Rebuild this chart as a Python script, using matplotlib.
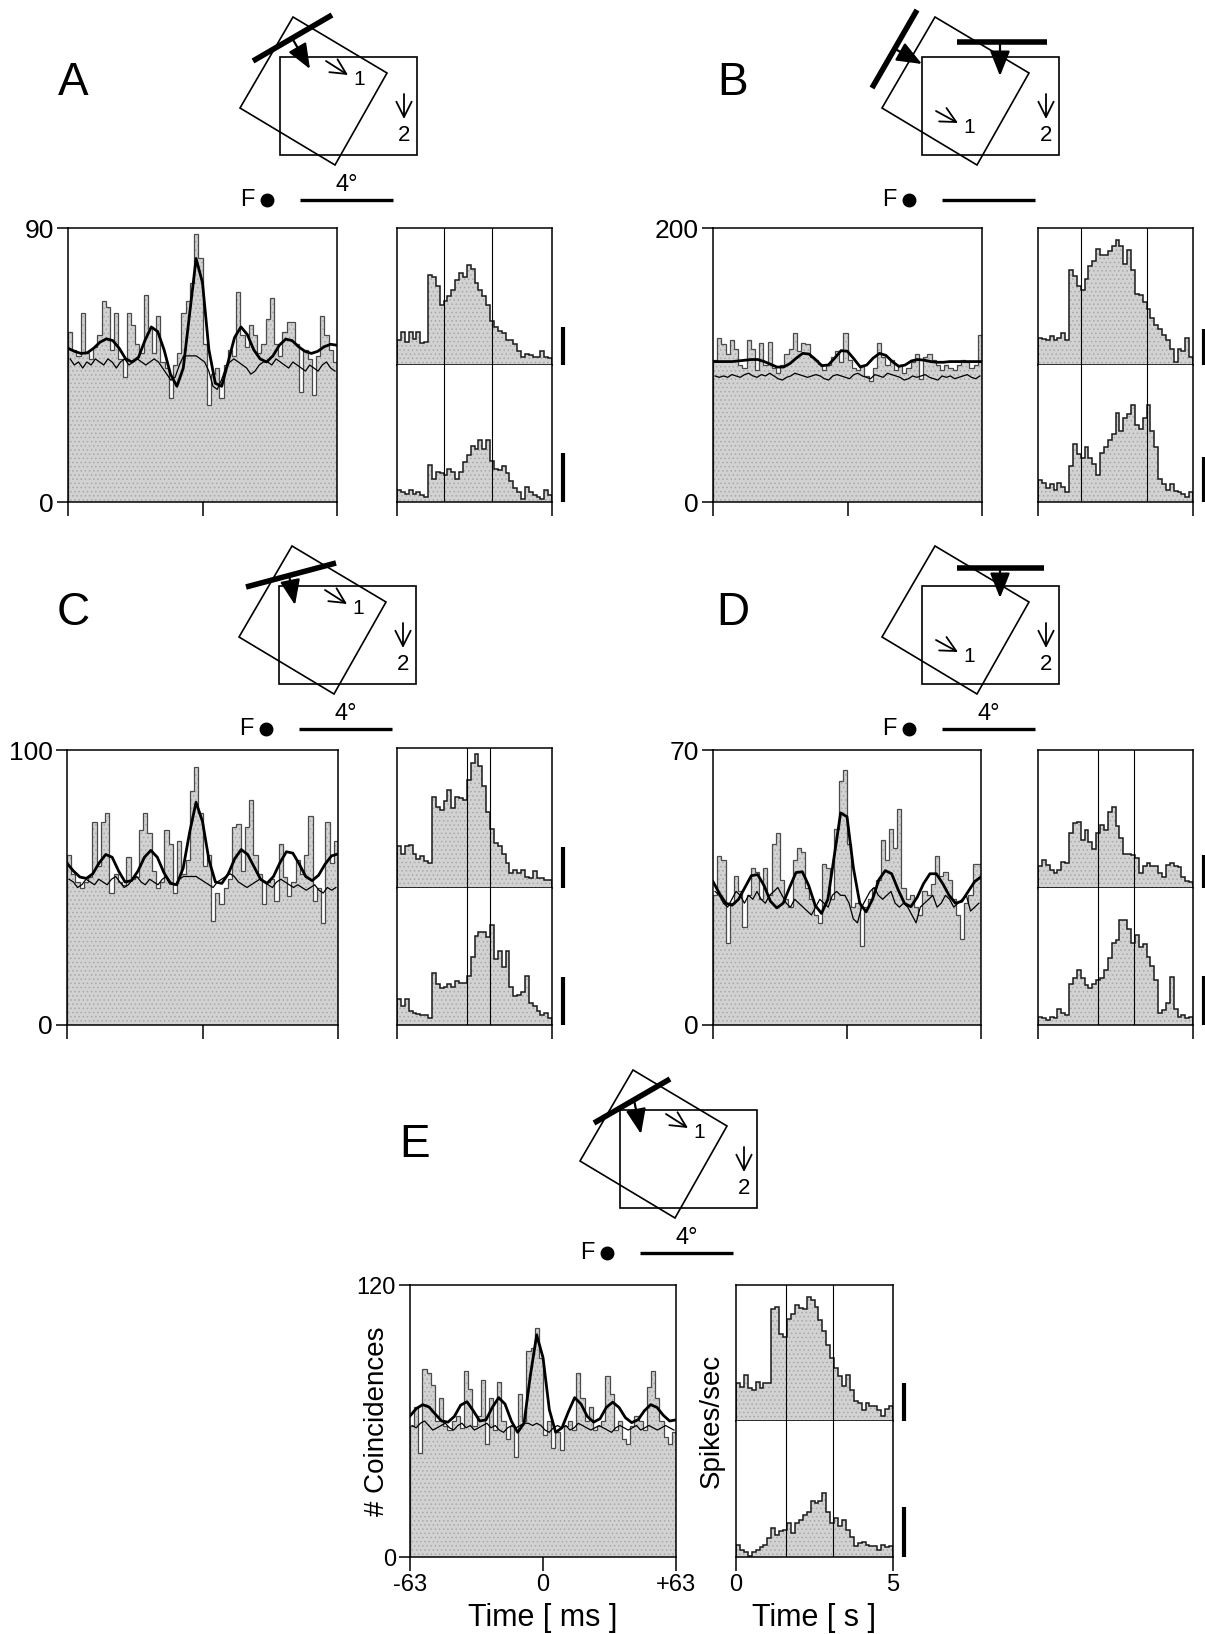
"""Cross-correlograms, PSTHs and receptive-field sketches, panels A-E."""

import matplotlib
import numpy as np

matplotlib.use("Agg")
import matplotlib.pyplot as plt
from matplotlib.patches import Polygon

W, H = 1205, 1634
plt.rcParams["font.family"] = ["Liberation Sans", "DejaVu Sans"]
plt.rcParams["hatch.linewidth"] = 0.6

FILL = "#d2d2d2"
STIPPLE = "#a9a9a9"
OUTLINE = "#4a4a4a"

# ---- cross-correlograms: coincidences per 2 ms bin, -63..+63 ms
ccg_a = [56, 50, 48, 62, 49, 47, 51, 55, 66, 64, 50, 62, 47, 41, 62, 58, 52, 49, 68, 57,
         49, 61, 46, 44, 34, 45, 49, 62, 66, 72, 88, 80, 52, 32, 42, 44, 34, 45, 50, 48,
         69, 55, 51, 58, 55, 49, 52, 60, 67, 52, 48, 56, 59, 59, 52, 36, 50, 47, 35, 48,
         61, 55, 50, 46]
shift_a = [47, 45, 46, 44, 46, 45, 47, 46, 45, 47, 46, 44, 46, 47, 45, 46, 47, 46, 45, 46,
           47, 46, 44, 42, 40, 41, 45, 48, 48, 48, 48, 47, 46, 43, 38, 37, 40, 44, 46, 47,
           46, 45, 44, 42, 43, 45, 46, 46, 45, 47, 46, 45, 44, 46, 45, 44, 43, 45, 44, 43,
           45, 46, 44, 43]
fit_a = [50.5, 49.5, 48.8, 49.0, 50.5, 52.5, 53.6, 53.0, 50.5, 47.0, 46.0, 47.5, 53, 57.5,
         56, 50, 42, 38, 44, 62, 80, 72, 50, 39, 38, 46, 54, 57.5, 55, 50, 47, 46, 48, 51.5,
         53.5, 53, 51, 49.5, 48.8, 49.5, 51, 51.8, 51.5]

ccg_b = [104, 120, 115, 108, 118, 112, 100, 98, 118, 112, 96, 116, 100, 117, 98, 94, 100,
         108, 112, 123, 110, 116, 115, 106, 104, 101, 96, 100, 106, 110, 102, 123, 104, 98,
         96, 100, 92, 88, 98, 116, 106, 100, 104, 96, 100, 94, 98, 102, 108, 90, 106, 108,
         104, 100, 96, 100, 98, 96, 100, 104, 102, 98, 100, 122]
shift_b = [92, 91, 92, 91, 93, 92, 91, 93, 94, 92, 91, 93, 92, 94, 92, 90, 89, 91, 92, 94,
           93, 92, 91, 92, 93, 92, 90, 89, 92, 93, 92, 91, 90, 93, 94, 92, 91, 90, 93, 92,
           91, 94, 93, 92, 91, 89, 90, 92, 91, 92, 93, 91, 90, 89, 92, 91, 92, 90, 91, 92,
           93, 91, 90, 92]
fit_b = [102.5, 102.5, 102.5, 102.5, 103, 103.5, 104, 104, 102.5, 100.5, 98.5, 98.5, 101,
         105, 108.5, 108, 104, 99.5, 100, 105, 110.5, 110, 104.5, 98.5, 100, 105, 108.5,
         107, 102.5, 99, 100, 103, 104, 103.5, 102.5, 102, 102, 102.5, 102.5, 102.5, 102.5,
         102.5, 102.5]

ccg_c = [62, 55, 52, 50, 52, 54, 74, 58, 74, 77, 48, 55, 52, 51, 61, 53, 54, 71, 77, 70,
         56, 50, 52, 71, 66, 48, 67, 55, 60, 85, 94, 77, 58, 62, 38, 48, 44, 50, 53, 72,
         73, 56, 72, 82, 62, 55, 44, 52, 53, 45, 66, 54, 47, 52, 60, 55, 62, 76, 45, 50,
         37, 74, 59, 67]
shift_c = [53, 52, 50, 51, 53, 52, 51, 53, 52, 51, 53, 54, 52, 50, 51, 53, 54, 52, 51, 53,
           52, 51, 53, 54, 52, 51, 53, 54, 54, 54, 54, 53, 52, 51, 50, 52, 53, 54, 55, 54,
           52, 51, 50, 51, 52, 53, 52, 51, 50, 52, 53, 52, 51, 50, 51, 50, 49, 50, 51, 49,
           48, 50, 49, 50]
fit_c = [58.8, 56, 53.8, 53.3, 55, 59, 62, 61, 56, 52, 52.5, 56, 61, 63.5, 61, 55.5, 51.5,
         51, 57, 70, 81, 74, 60, 52, 51.5, 55, 60.5, 63.8, 62, 57.5, 53, 51.5, 54, 59, 63,
         62.5, 58.5, 54, 52.5, 54.5, 58.5, 61.5, 62.2]

ccg_d = [33, 43, 42, 21, 31, 38, 34, 25, 33, 40, 39, 32, 40, 33, 46, 49, 37, 32, 30, 42,
         45, 44, 35, 32, 28, 26, 41, 40, 32, 50, 62, 65, 46, 30, 31, 20, 30, 32, 35, 37,
         47, 42, 50, 45, 55, 35, 32, 33, 30, 28, 34, 33, 36, 43, 38, 39, 37, 32, 28, 22,
         31, 33, 41, 41]
shift_d = [34, 33, 31, 30, 32, 34, 33, 31, 33, 32, 34, 32, 31, 33, 34, 35, 33, 31, 30, 32,
           31, 30, 29, 28, 30, 32, 31, 30, 33, 34, 33, 33, 31, 27, 26, 30, 32, 34, 35, 33,
           32, 33, 34, 31, 30, 31, 30, 28, 26, 30, 31, 32, 33, 30, 31, 33, 32, 30, 31, 32,
           33, 29, 30, 31]
fit_d = [36.5, 33.5, 31, 30.5, 32, 35, 38, 38.3, 35.5, 31.5, 29.8, 31, 35, 38.8, 39, 35.5,
         30.5, 28.4, 32, 43, 54, 53, 40, 31, 28.8, 32, 37, 39.3, 38.5, 34.5, 31, 30.1, 32.5,
         36, 38.5, 38.5, 36, 33, 31, 31.5, 34, 36.5, 37.7]

ccg_e = [58, 66, 46, 83, 81, 76, 60, 70, 58, 56, 60, 62, 57, 82, 74, 58, 62, 78, 50, 70,
         56, 77, 60, 52, 58, 44, 72, 60, 91, 92, 101, 88, 54, 60, 48, 55, 47, 58, 60, 56,
         81, 70, 60, 66, 56, 58, 60, 80, 72, 56, 60, 52, 50, 58, 62, 60, 56, 75, 82, 70,
         60, 53, 50, 55]
shift_e = [58, 57, 59, 60, 58, 56, 57, 58, 59, 57, 56, 58, 59, 57, 58, 56, 57, 58, 59, 57,
           58, 56, 55, 57, 58, 57, 58, 59, 59, 58, 59, 58, 56, 55, 57, 58, 57, 58, 56, 57,
           59, 58, 57, 56, 57, 58, 57, 56, 55, 57, 58, 57, 56, 57, 58, 56, 57, 58, 57, 56,
           57, 58, 57, 56]
fit_e = [62.2, 65.5, 67.2, 66.2, 63, 60, 59.5, 62, 67, 68.5, 64.5, 60, 60.5, 66, 70.3, 67.5,
         60, 55, 59, 80, 98, 88, 65, 55, 57, 64, 70.3, 67.5, 62, 59.5, 61, 66, 68.3, 66,
         61.5, 59.3, 60.5, 64.5, 67.2, 66, 62.5, 60, 60.5]

# ---- PSTHs, 40 bins over 0..5 s, as fraction of the half-panel height
psth_a1 = [0.18, 0.24, 0.17, 0.24, 0.19, 0.24, 0.16, 0.17, 0.66, 0.64, 0.58, 0.44, 0.47,
           0.50, 0.55, 0.62, 0.67, 0.64, 0.73, 0.70, 0.60, 0.55, 0.50, 0.44, 0.32, 0.28,
           0.25, 0.23, 0.18, 0.18, 0.15, 0.10, 0.06, 0.08, 0.07, 0.06, 0.06, 0.10, 0.06, 0.05]
psth_a2 = [0.085, 0.073, 0.06, 0.085, 0.06, 0.073, 0.05, 0.04, 0.27, 0.17, 0.22, 0.21, 0.20,
           0.24, 0.22, 0.17, 0.22, 0.29, 0.34, 0.41, 0.39, 0.45, 0.39, 0.45, 0.30, 0.24,
           0.23, 0.26, 0.21, 0.15, 0.10, 0.073, 0.024, 0.11, 0.073, 0.05, 0.04, 0.024, 0.085,
           0.05]
psth_b1 = [0.20, 0.19, 0.18, 0.21, 0.18, 0.20, 0.23, 0.18, 0.69, 0.65, 0.58, 0.55, 0.63,
           0.72, 0.76, 0.85, 0.80, 0.80, 0.83, 0.87, 0.91, 0.87, 0.74, 0.84, 0.69, 0.52,
           0.51, 0.46, 0.41, 0.34, 0.29, 0.26, 0.22, 0.18, 0.12, 0.02, 0.12, 0.10, 0.20, 0.06]
psth_b2 = [0.16, 0.14, 0.10, 0.13, 0.09, 0.14, 0.11, 0.07, 0.26, 0.42, 0.35, 0.32, 0.40,
           0.32, 0.28, 0.20, 0.36, 0.40, 0.45, 0.50, 0.65, 0.52, 0.61, 0.64, 0.71, 0.56,
           0.53, 0.61, 0.71, 0.52, 0.40, 0.17, 0.13, 0.09, 0.13, 0.08, 0.07, 0.06, 0.04, 0.07]
psth_c1 = [0.30, 0.24, 0.30, 0.31, 0.24, 0.21, 0.23, 0.19, 0.18, 0.65, 0.58, 0.56, 0.62,
           0.70, 0.57, 0.65, 0.64, 0.63, 0.77, 0.89, 0.96, 0.87, 0.73, 0.54, 0.42, 0.32,
           0.30, 0.24, 0.18, 0.11, 0.13, 0.11, 0.13, 0.08, 0.07, 0.12, 0.07, 0.07, 0.06, 0.06]
psth_c2 = [0.19, 0.14, 0.19, 0.10, 0.09, 0.08, 0.07, 0.07, 0.05, 0.38, 0.30, 0.27, 0.28,
           0.30, 0.28, 0.32, 0.31, 0.31, 0.36, 0.50, 0.65, 0.68, 0.68, 0.64, 0.73, 0.48,
           0.54, 0.42, 0.54, 0.28, 0.21, 0.22, 0.24, 0.36, 0.16, 0.14, 0.10, 0.07, 0.09, 0.05]
psth_d1 = [0.16, 0.20, 0.17, 0.13, 0.11, 0.13, 0.19, 0.18, 0.40, 0.47, 0.48, 0.35, 0.42,
           0.33, 0.28, 0.40, 0.46, 0.42, 0.55, 0.59, 0.45, 0.36, 0.25, 0.25, 0.24, 0.22,
           0.11, 0.16, 0.18, 0.16, 0.16, 0.11, 0.08, 0.17, 0.18, 0.16, 0.15, 0.08, 0.05, 0.04]
psth_d2 = [0.06, 0.05, 0.04, 0.06, 0.05, 0.12, 0.09, 0.07, 0.30, 0.34, 0.40, 0.34, 0.29,
           0.27, 0.30, 0.33, 0.34, 0.40, 0.49, 0.60, 0.62, 0.77, 0.77, 0.70, 0.60, 0.66,
           0.57, 0.59, 0.50, 0.43, 0.33, 0.09, 0.11, 0.16, 0.35, 0.12, 0.06, 0.07, 0.05, 0.06]
psth_e1 = [0.28, 0.25, 0.34, 0.24, 0.23, 0.29, 0.24, 0.28, 0.28, 0.82, 0.84, 0.64, 0.62,
           0.75, 0.79, 0.85, 0.83, 0.82, 0.91, 0.89, 0.84, 0.74, 0.66, 0.56, 0.46, 0.39,
           0.33, 0.26, 0.34, 0.23, 0.15, 0.13, 0.08, 0.13, 0.11, 0.11, 0.08, 0.04, 0.09, 0.11]
psth_e2 = [0.09, 0.05, 0.04, 0.01, 0.04, 0.05, 0.07, 0.09, 0.14, 0.21, 0.16, 0.19, 0.20,
           0.25, 0.18, 0.25, 0.27, 0.31, 0.33, 0.41, 0.40, 0.41, 0.47, 0.33, 0.25, 0.29,
           0.23, 0.27, 0.20, 0.15, 0.08, 0.10, 0.11, 0.09, 0.08, 0.08, 0.05, 0.09, 0.07, 0.08]

# stimulus on/off markers (s)
marks = {"A": (1.5, 3.05), "B": (1.4, 3.5), "C": (2.25, 3.0), "D": (1.95, 3.1), "E": (1.6, 3.1)}
ymax = {"A": 90, "B": 200, "C": 100, "D": 70, "E": 120}

# ---- layout in pixels (left, top, right, bottom)
CCG_BOX = {"A": (68, 228, 337, 502), "B": (713, 228, 982, 502), "C": (67, 750, 338, 1025),
           "D": (713, 750, 981, 1025), "E": (410, 1285, 676, 1557)}
PSTH_BOX = {"A": (397, 228, 552, 365, 502), "B": (1038, 228, 1193, 365, 502),
            "C": (397, 748, 552, 888, 1025), "D": (1038, 750, 1193, 888, 1025),
            "E": (736, 1285, 893, 1421, 1557)}
LETTER_POS = {"A": (73, 83), "B": (733, 83), "C": (73, 613), "D": (733, 613), "E": (415, 1145)}
SCALEBARS = {"A": (0.28, 0.36), "B": (0.26, 0.33), "C": (0.29, 0.35), "D": (0.24, 0.36),
             "E": (0.28, 0.37)}
TICK_SIZE = {"A": 19, "B": 19, "C": 19, "D": 19, "E": 17}

# ---- receptive field sketches (px, relative to top-left of the upright field)
FIELD_W, FIELD_H = 137, 98
TILTED = [(13, -40), (107, 16), (55, 108), (-40, 51)]
SKETCH = {
    "A": dict(origin=(280, 57), bars=[((-27, 4), (52, -42))], motion=[((12, -19), (30, 12))],
              cell1=((46, 4), (68, 18)), deg=True),
    "B": dict(origin=(922, 57), bars=[((-50, 31), (-5, -47)), ((35, -15), (125, -15))],
              motion=[((-25, -7), (0, 7)), ((78, -15), (78, 19))],
              cell1=((14, 54), (36, 66)), deg=False),
    "C": dict(origin=(279, 586), bars=[((-33, 1), (57, -23))], motion=[((10, -11), (16, 19))],
              cell1=((46, 4), (68, 18)), deg=True),
    "D": dict(origin=(922, 586), bars=[((35, -18), (122, -18))], motion=[((78, -18), (78, 12))],
              cell1=((14, 54), (36, 66)), deg=True),
    "E": dict(origin=(620, 1110), bars=[((-26, 13), (50, -31))], motion=[((14, -10), (21, 24))],
              cell1=((46, 4), (68, 18)), deg=True),
}


def px_axes(fig, left, top, right, bottom):
    return fig.add_axes([left / W, 1 - bottom / H, (right - left) / W, (bottom - top) / H])


def style_frame(ax, size=17):
    for sp in ax.spines.values():
        sp.set_linewidth(1.1)
    ax.tick_params(direction="out", length=8, width=1.1, labelsize=size, pad=2)


def shade(ax, vals, edges):
    ax.stairs(vals, edges, fill=True, facecolor=FILL, edgecolor=STIPPLE, hatch="....",
              lw=0, zorder=1)


def draw_ccg(ax, counts, shift, fit, top, labelled, size):
    edges = np.linspace(-63, 63, len(counts) + 1)
    mids = 0.5 * (edges[:-1] + edges[1:])
    shade(ax, counts, edges)
    ax.stairs(counts, edges, color=OUTLINE, lw=0.9, zorder=2)
    ax.plot(mids, shift, color="k", lw=0.9, zorder=3)
    ax.plot(np.linspace(-63, 63, len(fit)), fit, color="k", lw=2.0, zorder=4)
    ax.set_xlim(-63, 63)
    ax.set_ylim(0, top)
    ax.set_xticks([-63, 0, 63])
    ax.set_yticks([0, top])
    ax.set_yticklabels(["0", str(top)])
    style_frame(ax, size)
    ax.tick_params(axis="x", length=10)
    if labelled:
        ax.set_xticklabels(["-63", "0", "+63"])
        ax.set_xlabel("Time [ ms ]", fontsize=22, labelpad=5)
        ax.set_ylabel("# Coincidences", fontsize=20)
        ax.yaxis.set_label_coords(-0.075, 0.5)
    else:
        ax.set_xticklabels([])


def draw_psth(ax_top, ax_bot, upper, lower, stim, bars, labelled):
    for ax, vals in ((ax_top, upper), (ax_bot, lower)):
        edges = np.linspace(0, 5, len(vals) + 1)
        shade(ax, vals, edges)
        ax.stairs(vals, edges, color="#1a1a1a", lw=1.1, zorder=2)
        for t in stim:
            ax.axvline(t, color="k", lw=0.8, zorder=3)
        ax.set_xlim(0, 5)
        ax.set_ylim(0, 1)
        ax.set_yticks([])
        style_frame(ax)
    ax_top.set_xticks([])
    ax_bot.spines["top"].set_visible(False)
    ax_bot.set_xticks([0, 5])
    ax_bot.tick_params(axis="x", length=10)
    for ax, h in ((ax_top, bars[0]), (ax_bot, bars[1])):
        ax.plot([1.072, 1.072], [0, h], transform=ax.transAxes, clip_on=False,
                color="k", lw=3, solid_capstyle="butt")
    if labelled:
        ax_bot.set_xticklabels(["0", "5"])
        ax_bot.set_xlabel("Time [ s ]", fontsize=22, labelpad=5)
        ax_top.set_ylabel("Spikes/sec", fontsize=20)
        ax_top.yaxis.set_label_coords(-0.07, 0.0)
    else:
        ax_bot.set_xticklabels([])


def draw_sketch(sk, spec):
    ox, oy = spec["origin"]

    def P(p):
        return (ox + p[0], oy + p[1])

    field = [(0, 0), (FIELD_W, 0), (FIELD_W, FIELD_H), (0, FIELD_H)]
    sk.add_patch(Polygon([P(p) for p in field], closed=True, fill=False, lw=1.2, ec="k"))
    sk.add_patch(Polygon([P(p) for p in TILTED], closed=True, fill=False, lw=1.2, ec="k"))
    for a, b in spec["bars"]:
        (x0, y0), (x1, y1) = P(a), P(b)
        sk.plot([x0, x1], [y0, y1], color="k", lw=4, solid_capstyle="butt")
    for a, b in spec["motion"]:
        sk.annotate("", xy=P(b), xytext=P(a),
                    arrowprops=dict(arrowstyle="-|>,head_length=0.7,head_width=0.28",
                                    mutation_scale=22, lw=1.6, color="k",
                                    shrinkA=0, shrinkB=0))
    small = dict(arrowstyle="->,head_length=0.5,head_width=0.25", mutation_scale=22,
                 lw=1.3, color="k", shrinkA=0, shrinkB=0)
    a, b = spec["cell1"]
    sk.annotate("", xy=P(b), xytext=P(a), arrowprops=small)
    sk.text(*P((b[0] + 11, b[1] + 4)), "1", fontsize=15, ha="center", va="center")
    sk.annotate("", xy=P((124, 62)), xytext=P((124, 37)), arrowprops=small)
    sk.text(*P((124, 78)), "2", fontsize=16, ha="center", va="center")
    sk.text(*P((-33, 143)), "F", fontsize=17, ha="center", va="center")
    sk.plot(*P((-13, 143)), "o", color="k", ms=9)
    (x0, y0), (x1, _) = P((20, 143)), P((113, 143))
    sk.plot([x0, x1], [y0, y0], color="k", lw=2.4, solid_capstyle="butt")
    if spec["deg"]:
        sk.text(*P((67, 128)), "4°", fontsize=17, ha="center", va="center")


fig = plt.figure(figsize=(W / 100, H / 100), dpi=100)
sk = fig.add_axes([0, 0, 1, 1])
sk.set_xlim(0, W)
sk.set_ylim(H, 0)
sk.axis("off")

data = {
    "A": (ccg_a, shift_a, fit_a, psth_a1, psth_a2),
    "B": (ccg_b, shift_b, fit_b, psth_b1, psth_b2),
    "C": (ccg_c, shift_c, fit_c, psth_c1, psth_c2),
    "D": (ccg_d, shift_d, fit_d, psth_d1, psth_d2),
    "E": (ccg_e, shift_e, fit_e, psth_e1, psth_e2),
}

for key, (counts, shift, fit, upper, lower) in data.items():
    labelled = key == "E"
    ax = px_axes(fig, *CCG_BOX[key])
    draw_ccg(ax, counts, shift, fit, ymax[key], labelled, TICK_SIZE[key])
    l, t, r, m, b = PSTH_BOX[key]
    ax_top = px_axes(fig, l, t, r, m)
    ax_bot = px_axes(fig, l, m, r, b)
    draw_psth(ax_top, ax_bot, upper, lower, marks[key], SCALEBARS[key], labelled)
    draw_sketch(sk, SKETCH[key])
    sk.text(*LETTER_POS[key], key, fontsize=33, ha="center", va="center")

fig.savefig("out.png", dpi=100)
